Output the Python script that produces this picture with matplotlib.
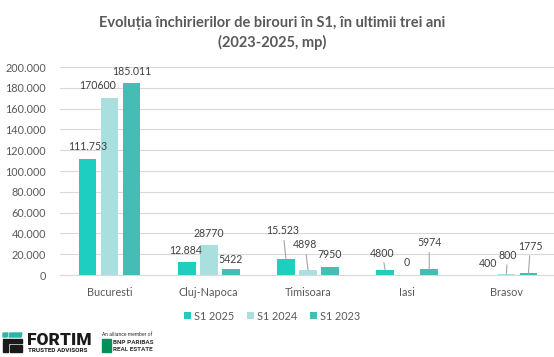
import matplotlib
matplotlib.use("Agg")
import matplotlib.pyplot as plt
from matplotlib.patches import Rectangle, Polygon
import numpy as np

plt.rcParams['font.family'] = ['Lato', 'DejaVu Sans']

# ---- data ----
categories = ["Bucuresti", "Cluj-Napoca", "Timisoara", "Iasi", "Brasov"]
series_names = ["S1 2025", "S1 2024", "S1 2023"]
s1_2025 = [111753, 12884, 15523, 4800, 400]
s1_2024 = [170600, 28770, 4898, 0, 800]
s1_2023 = [185011, 5422, 7950, 5974, 1775]
labels_2025 = ["111.753", "12.884", "15.523", "4800", "400"]
labels_2024 = ["170600", "28770", "4898", "0", "800"]
labels_2023 = ["185.011", "5422", "7950", "5974", "1775"]
yticks = [0, 20000, 40000, 60000, 80000, 100000, 120000, 140000, 160000, 180000, 200000]
ytick_labels = ["0", "20.000", "40.000", "60.000", "80.000", "100.000",
                "120.000", "140.000", "160.000", "180.000", "200.000"]
title = "Evoluția închirierilor de birouri în S1, în ultimii trei ani\n(2023-2025, mp)"

colors = ["#1ecfbf", "#a9dfdf", "#45bdb5"]
text_gray = "#595959"
label_gray = "#404040"

# label offsets in pixels (dx, dy) and leader flag
offs = [
    [(0, 12, False), (-1, 11, False), (-3, 28, True), (-3, 17, True), (4, 11, False)],
    [(-12, 12, False), (0, 12, False), (-3, 25, True), (-1, 12, False), (1, 19, True)],
    [(0, 11, False), (0, 10, False), (0, 12, False), (0, 26, True), (2, 27, True)],
]

W, H = 554, 357
fig = plt.figure(figsize=(W / 100, H / 100), dpi=100)
ax = fig.add_axes([60 / W, 1 - 275 / H, 496 / W, 208 / H])

x = np.arange(len(categories))
bw = 0.176
step = 0.222
all_series = [s1_2025, s1_2024, s1_2023]
all_labels = [labels_2025, labels_2024, labels_2023]
for k, (vals, labs) in enumerate(zip(all_series, all_labels)):
    xs = x + (k - 1) * step
    ax.bar(xs, vals, width=bw, color=colors[k], label=series_names[k], zorder=3)
    for i, (xv, v, lab) in enumerate(zip(xs, vals, labs)):
        dx, dy, leader = offs[k][i]
        ap = None
        if leader:
            ap = dict(arrowstyle='-', color='#a6a6a6', lw=0.8, shrinkA=1, shrinkB=0)
        ax.annotate(lab, xy=(xv, v), xytext=(dx, dy), textcoords='offset pixels',
                    ha='center', va='center', fontsize=7.6, color=label_gray,
                    arrowprops=ap, zorder=4)

ax.set_xlim(-0.5, 4.5)
ax.set_ylim(0, 200000)
ax.set_yticks(yticks)
ax.set_yticklabels(ytick_labels)
ax.set_xticks(x)
ax.set_xticklabels(categories)
ax.tick_params(axis='both', length=0, labelsize=7.8, labelcolor=text_gray)
ax.tick_params(axis='y', pad=10)
ax.tick_params(axis='x', pad=9)
ax.grid(axis='y', color='#d9d9d9', lw=0.8, zorder=0)
for s in ["top", "right", "left"]:
    ax.spines[s].set_visible(False)
ax.spines["bottom"].set_color("#d9d9d9")
ax.spines["bottom"].set_linewidth(0.8)

fig.text(272 / W, 1 - 33 / H, title, ha='center', va='center', fontsize=10.5,
         fontweight='bold', color=text_gray, linespacing=1.45)

leg = fig.legend(loc='center', bbox_to_anchor=(272 / W, 1 - 316 / H), ncol=3,
                 frameon=False, fontsize=7.8, handlelength=0.6, handleheight=0.6,
                 handletextpad=0.3, columnspacing=1.2, labelcolor=text_gray)

# ---- logo (decorative) ----
def px(xp, yp):
    return (xp / W, 1 - yp / H)

teal = "#2bb5a8"
fig.patches.append(Polygon([px(3, 333), px(8, 333), px(7, 337), px(3, 337)], closed=True,
                           transform=fig.transFigure, color=teal))
fig.patches.append(Polygon([px(10, 333), px(22, 333), px(21, 337), px(9, 337)], closed=True,
                           transform=fig.transFigure, color=teal))
fig.patches.append(Polygon([px(3, 339), px(22, 339), px(22, 343), px(8, 343),
                            px(8, 352), px(3, 352)], closed=True,
                           transform=fig.transFigure, color="#1a1a1a"))
fig.patches.append(Polygon([px(10, 345), px(22, 345), px(22, 352), px(10, 352)], closed=True,
                           transform=fig.transFigure, color="#1a1a1a"))
fig.text(27 / W, 1 - 340 / H, "FORTIM", fontsize=12.5, fontweight='black',
         color="#1a1a1a", ha='left', va='center', family=['Roboto', 'DejaVu Sans'])
fig.text(28 / W, 1 - 351 / H, "TRUSTED ADVISORS", fontsize=4.6, fontweight='bold',
         color="#1a1a1a", ha='left', va='center', family=['Roboto', 'DejaVu Sans'])
fig.text(102 / W, 1 - 335 / H, "An alliance member of", fontsize=3.6,
         color="#333333", ha='left', va='center', family=['Roboto', 'DejaVu Sans'])
fig.patches.append(Rectangle(px(102, 352), 9 / W, 13 / H, transform=fig.transFigure,
                             color="#00915a"))
fig.text(113 / W, 1 - 342.5 / H, "BNP PARIBAS", fontsize=4.6, fontweight='bold',
         color="#333333", ha='left', va='center', family=['Roboto', 'DejaVu Sans'])
fig.text(113 / W, 1 - 349.5 / H, "REAL ESTATE", fontsize=4.6, fontweight='bold',
         color="#333333", ha='left', va='center', family=['Roboto', 'DejaVu Sans'])

fig.savefig("out.png", dpi=100, facecolor="white")
